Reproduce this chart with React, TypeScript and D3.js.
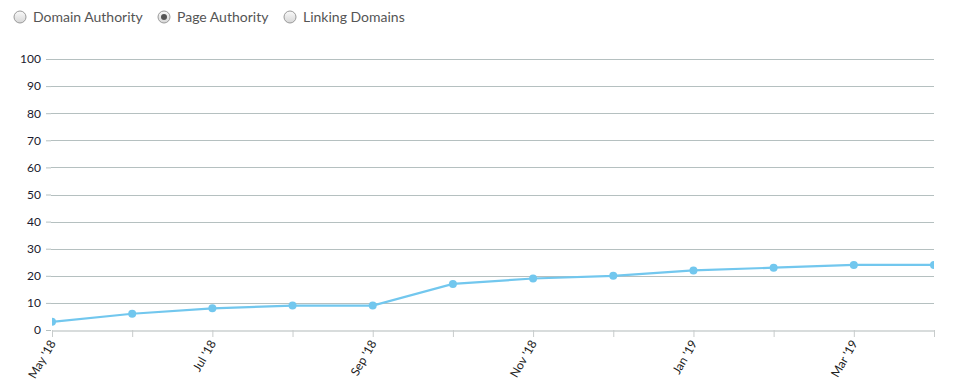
import { useEffect, useRef } from "react";
import * as d3 from "d3";

const months = ["May '18", "Jun '18", "Jul '18", "Aug '18", "Sep '18", "Oct '18", "Nov '18", "Dec '18", "Jan '19", "Feb '19", "Mar '19", "Apr '19"];
const pageAuthority = [3, 6, 8, 9, 9, 17, 19, 20, 22, 23, 24, 24];
const yTicks = [0, 10, 20, 30, 40, 50, 60, 70, 80, 90, 100];
const options = ["Domain Authority", "Page Authority", "Linking Domains"];
const selected = "Page Authority";

export default function App() {
  const ref = useRef<SVGSVGElement>(null);
  const W = 953;
  const H = 387;
  const margin = { top: 59, right: 19, bottom: 57, left: 52 };
  const width = W - margin.left - margin.right;
  const height = H - margin.top - margin.bottom;

  useEffect(() => {
    const svg = d3.select(ref.current);
    svg.selectAll("*").remove();
    const font = "Lato, 'Open Sans', sans-serif";

    // radio legend
    const legendX = [20, 164, 290];
    const defs = svg.append("defs");
    const grad = defs
      .append("linearGradient")
      .attr("id", "radio-grad")
      .attr("x1", "0%")
      .attr("y1", "0%")
      .attr("x2", "0%")
      .attr("y2", "100%");
    grad.append("stop").attr("offset", "0%").attr("stop-color", "#fafafa");
    grad.append("stop").attr("offset", "100%").attr("stop-color", "#d6d6d6");

    // clip the plot area so the edge points are cut in half
    defs
      .append("clipPath")
      .attr("id", "plot-clip")
      .append("rect")
      .attr("x", 0)
      .attr("y", -10)
      .attr("width", width)
      .attr("height", height + 10);

    const legend = svg
      .append("g")
      .selectAll("g")
      .data(options)
      .enter()
      .append("g")
      .attr("transform", (d, i) => `translate(${legendX[i]},17)`);
    legend
      .append("circle")
      .attr("r", 6)
      .attr("fill", "url(#radio-grad)")
      .attr("stroke", "#9a9a9a")
      .attr("stroke-width", 1);
    legend
      .filter((d) => d === selected)
      .append("circle")
      .attr("r", 3)
      .attr("fill", "#555");
    legend
      .append("text")
      .attr("x", 13)
      .attr("y", 5)
      .style("font-family", font)
      .style("font-size", "14px")
      .style("fill", "#555")
      .text((d) => d);

    const g = svg.append("g").attr("transform", `translate(${margin.left},${margin.top})`);

    const x = d3.scalePoint().domain(months).range([0, width]);
    const y = d3.scaleLinear().domain([0, 100]).range([height, 0]);

    // y axis + grid
    const yAxis = g
      .append("g")
      .call(
        d3
          .axisLeft(y)
          .tickValues(yTicks)
          .tickSize(5)
          .tickSizeOuter(0)
      );
    yAxis.select(".domain").remove();
    yAxis.selectAll(".tick line").attr("stroke", "#b5c0c0").attr("x2", -1).attr("x1", -6);
    yAxis
      .selectAll(".tick text")
      .attr("x", -11)
      .style("font-family", font)
      .style("font-size", "12px")
      .style("fill", "#1a1a2e");

    g.append("g")
      .selectAll("line")
      .data(yTicks.filter((t) => t > 0))
      .enter()
      .append("line")
      .attr("x1", -1)
      .attr("x2", width)
      .attr("y1", (d) => Math.round(y(d)) + 0.5)
      .attr("y2", (d) => Math.round(y(d)) + 0.5)
      .attr("stroke", "#b5c0c0")
      .attr("stroke-width", 1);

    // x axis
    const xAxis = g
      .append("g")
      .attr("transform", `translate(0,${height})`)
      .call(
        d3
          .axisBottom(x)
          .tickSize(7)
          .tickSizeOuter(0)
          .tickFormat((d, i) => (i % 2 === 0 ? d : ""))
      );
    xAxis.select(".domain").attr("stroke", "#d8dcdc").attr("stroke-width", 2).attr("d", `M0,1H${width + 1}`);
    xAxis.selectAll(".tick line").attr("stroke", "#c8cccc");
    xAxis
      .selectAll(".tick text")
      .attr("text-anchor", "end")
      .attr("dy", "0.35em")
      .attr("transform", "translate(0,11) rotate(-60)")
      .attr("x", 0)
      .attr("y", 0)
      .style("font-family", font)
      .style("font-size", "12px")
      .style("fill", "#222");

    // line
    const data = months.map((m, i) => ({ m, v: pageAuthority[i] }));
    const plot = g.append("g").attr("clip-path", "url(#plot-clip)");
    plot
      .append("path")
      .datum(data)
      .attr("fill", "none")
      .attr("stroke", "#72c7ee")
      .attr("stroke-width", 2.2)
      .attr(
        "d",
        d3
          .line<{ m: string; v: number }>()
          .x((d) => x(d.m) as number)
          .y((d) => y(d.v))
      );

    plot
      .append("g")
      .selectAll("circle")
      .data(data)
      .enter()
      .append("circle")
      .attr("cx", (d) => x(d.m) as number)
      .attr("cy", (d) => y(d.v))
      .attr("r", 4)
      .attr("fill", "#72c7ee");
  }, []);

  return (
    <svg
      ref={ref}
      width={W}
      height={H}
      style={{ position: "absolute", left: 0, top: 0, background: "#fff" }}
    />
  );
}
